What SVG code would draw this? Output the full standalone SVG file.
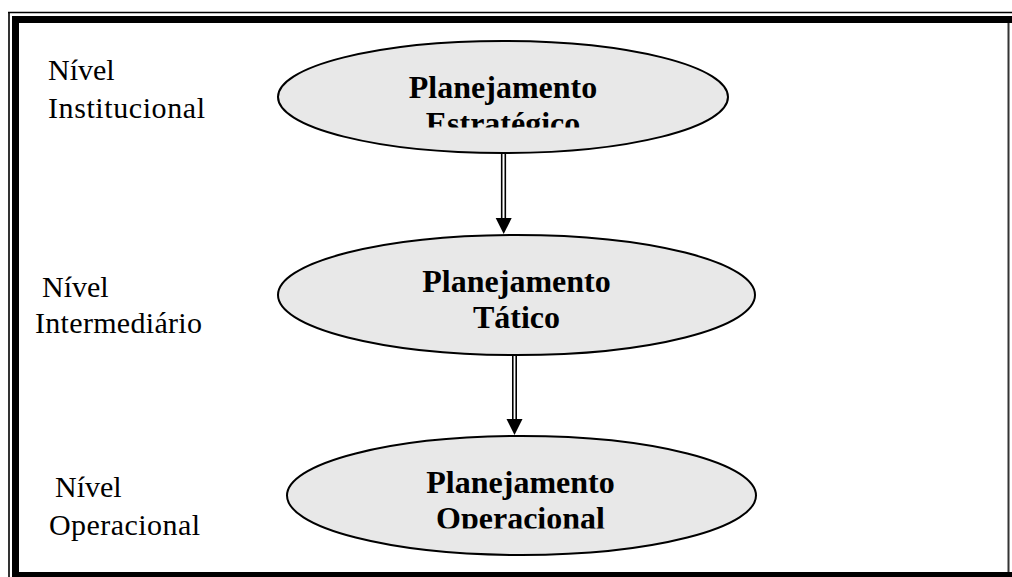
<svg xmlns="http://www.w3.org/2000/svg" width="1012" height="577" viewBox="0 0 1012 577">
  <style>
    .lbl { font-family: "Liberation Serif", "Times New Roman", serif; font-size: 30px; fill: #000; }
    .ttl { font-family: "Liberation Serif", "Times New Roman", serif; font-size: 32px; font-weight: bold; fill: #000; text-anchor: middle; }
    .ell { fill: #e8e8e8; stroke: #000; stroke-width: 2; }
    .shaft { stroke: #000; stroke-width: 1.6; fill: none; }
    .head { fill: #000; stroke: none; }
  </style>
  <defs>
    <clipPath id="clip1"><rect x="270" y="40" width="470" height="87.5"/></clipPath>
    <clipPath id="clip3"><rect x="280" y="430" width="490" height="98.5"/></clipPath>
  </defs>
  <rect x="0" y="0" width="1012" height="577" fill="#fff"/>

  <g id="border">
    <line x1="8" y1="12.5" x2="1012" y2="12.5" stroke="#000" stroke-width="1.6"/>
    <line x1="9" y1="12" x2="9" y2="577" stroke="#000" stroke-width="1.6"/>
    <rect x="12" y="16" width="1000" height="7" fill="#000"/>
    <rect x="12" y="16" width="7" height="561" fill="#000"/>
    <rect x="12" y="572" width="1000" height="5" fill="#000"/>
    <line x1="1008.5" y1="23" x2="1008.5" y2="572" stroke="#333" stroke-width="2"/>
  </g>

  <g id="labels">
    <g id="label-institucional">
      <text class="lbl" x="48" y="80">Nível</text>
      <text class="lbl" x="48" y="118" textLength="157">Institucional</text>
    </g>
    <g id="label-intermediario">
      <text class="lbl" x="42" y="297">Nível</text>
      <text class="lbl" x="35" y="333" textLength="167">Intermediário</text>
    </g>
    <g id="label-operacional">
      <text class="lbl" x="55" y="497">Nível</text>
      <text class="lbl" x="49" y="535" textLength="151">Operacional</text>
    </g>
  </g>

  <g id="connectors">
    <g id="arrow1">
      <line class="shaft" x1="501.7" y1="153" x2="501.7" y2="219"/>
      <line class="shaft" x1="505.3" y1="153" x2="505.3" y2="219"/>
      <polygon class="head" points="495.7,218 511.7,218 503.7,234"/>
    </g>
    <g id="arrow2">
      <line class="shaft" x1="512.8" y1="354" x2="512.8" y2="420"/>
      <line class="shaft" x1="516.2" y1="354" x2="516.2" y2="420"/>
      <polygon class="head" points="506.5,419 522.5,419 514.5,435"/>
    </g>
  </g>

  <g id="node-estrategico">
    <ellipse class="ell" cx="503" cy="97" rx="225" ry="56"/>
    <g clip-path="url(#clip1)">
      <text class="ttl" x="503" y="98">Planejamento</text>
      <text class="ttl" x="503" y="134">Estratégico</text>
    </g>
  </g>

  <g id="node-tatico">
    <ellipse class="ell" cx="516.5" cy="295" rx="238.5" ry="60"/>
    <text class="ttl" x="516.5" y="292">Planejamento</text>
    <text class="ttl" x="516.5" y="328">Tático</text>
  </g>

  <g id="node-operacional">
    <ellipse class="ell" cx="521.5" cy="495.5" rx="234.5" ry="59.5"/>
    <g clip-path="url(#clip3)">
      <text class="ttl" x="520.5" y="493">Planejamento</text>
      <text class="ttl" x="520.5" y="529">Operacional</text>
    </g>
  </g>
</svg>
